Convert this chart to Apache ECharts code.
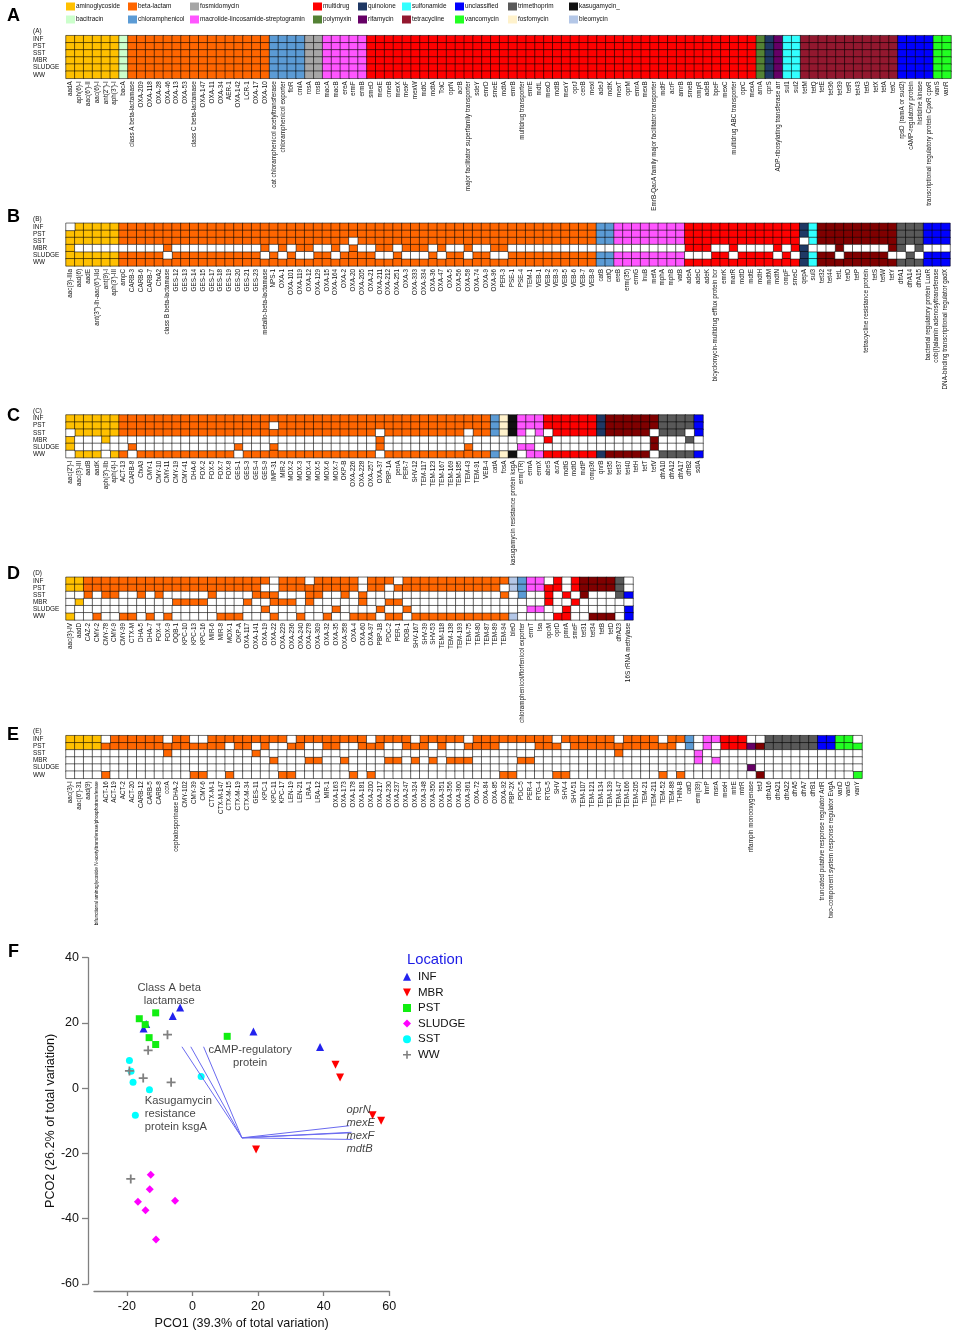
<!DOCTYPE html>
<html lang="en">

<head>
    <meta charset="utf-8">
    <title>Resistance gene heatmaps and PCoA by location</title>
    <style>
        html, body { margin: 0; padding: 0; background: #fff; }
        #chart { width: 954px; height: 1331px; }
    </style>
</head>

<body>
    <div id="chart"></div>
    <script src="https://cdn.jsdelivr.net/npm/echarts@6/dist/echarts.min.js"></script>
    <script type="text/javascript">
        var sites = ['INF', 'PST', 'SST', 'MBR', 'SLUDGE', 'WW'];

        var classNames = ['aminoglycoside', 'bacitracin', 'beta-lactam', 'chloramphenicol', 'fosmidomycin',
            'macrolide-lincosamide-streptogramin', 'multidrug', 'polymyxin', 'quinolone', 'rifamycin',
            'sulfonamide', 'tetracycline', 'unclassified', 'vancomycin', 'trimethoprim', 'fosfomycin',
            'kasugamycin_', 'bleomycin'];
        var classColors = ['#FFC000', '#CCFFCC', '#FF6600', '#5B9BD5', '#A6A6A6', '#FF55FF', '#FF0000', '#548235',
            '#1F3864', '#660066', '#33FFFF', '#800000', '#0000FF', '#22FF22', '#595959', '#FFF2CC', '#111111', '#B4C7E7'];

        // panel A
        var aGenes = ["aadA", "aph(6)-I", "aac(6')-II", "aac(6)-I", "ant(2'')-I", "aph(3')-I", "bacA",
            "class A beta-lactamase", "OXA-209", "OXA-118", "OXA-28", "OXA-46", "OXA-13", "OXA-53", "class C beta-lactamase",
            "OXA-147", "OXA-11", "OXA-34", "AER-1", "OXA-142", "LCR-1", "OXA-17", "OXA-10",
            "cat chloramphenicol acetyltransferase", "chloramphenicol exporter", "floR", "cmlA", "rosA", "rosB",
            "macA", "macB", "ereA", "ermF", "ermB",
            "smeD", "mexE", "cmeB", "mexX", "mexF", "mexW", "mdtC", "mdtA", "TolC", "oprN", "acrB",
            "major facilitator superfamily transporter", "sdeY", "emrD", "smeE", "mdtA", "emrB", "multidrug transporter",
            "emrE", "mdtL", "mexD", "mdtB", "mexY", "oprJ", "ceoB", "mexI", "adeJ", "mdtK", "mexT", "oprM", "emrA", "mexB",
            "EmrB-QacA family major facilitator transporter", "mdtF", "acrF", "amrB", "smeB", "ompR", "adeB", "bpeF", "mexC",
            "multidrug ABC transporter", "oprC", "mexA", "arnA", "cprS", "ADP-ribosylating transferase arr", "sul1", "sul2",
            "tetM", "tetQ", "tetE", "tet36", "tet39", "tetR", "tet43", "tetG", "tetX", "tetA", "tetC",
            "rpsD (ramA or sud2)", "cAMP-regulatory protein", "histidine kinase", "transcriptional regulatory protein CpxR cpxR",
            "vanS", "vanR"];
        var aRuns = [['aminoglycoside', 6], ['bacitracin', 1], ['beta-lactam', 16], ['chloramphenicol', 4], ['fosmidomycin', 2],
            ['macrolide-lincosamide-streptogramin', 5], ['multidrug', 44], ['polymyxin', 1], ['quinolone', 1], ['rifamycin', 1],
            ['sulfonamide', 2], ['tetracycline', 11], ['unclassified', 4], ['vancomycin', 2]];
        var aAll = '1111111111 1111111111 1111111111 1111111111 1111111111 1111111111 1111111111 1111111111 1111111111 1111111111';
        var aRows = [aAll, aAll, aAll, aAll, aAll, aAll];

        // panel B
        var bGenes = ["aac(3)-IIIa", "aad(6)", "aadE", "ant(3'')-Ih-aac(6')-IId", "ant(9)-I", "aph(3')-III",
            "ampC", "CARB-3", "CARB-6", "CARB-7", "CfxA2", "class B beta-lactamase",
            "GES-12", "GES-13", "GES-14", "GES-15", "GES-17", "GES-18", "GES-19", "GES-20", "GES-21", "GES-23",
            "metallo-beta-lactamase", "NPS-1", "OXA-1", "OXA-101", "OXA-119", "OXA-12", "OXA-129", "OXA-15", "OXA-164", "OXA-2",
            "OXA-20", "OXA-205", "OXA-21", "OXA-211", "OXA-212", "OXA-251", "OXA-3", "OXA-333", "OXA-334", "OXA-36", "OXA-47",
            "OXA-5", "OXA-56", "OXA-58", "OXA-74", "OXA-9", "OXA-96", "PER-3", "PSE-1", "PSE-4", "TEM-1",
            "VEB-1", "VEB-2", "VEB-3", "VEB-5", "VEB-6", "VEB-7", "VEB-8", "catB", "catQ",
            "ereB", "erm(35)", "ermG", "lnuB", "mefA", "mphA", "mphB", "vatB",
            "adeA", "adeC", "adeK", "bicyclomycin-multidrug efflux protein bcr", "emrK", "marR", "mdtD", "mdtE", "mdtH", "mdtM",
            "mdtN", "ompF", "smeC", "qepA", "sul3", "tet32", "tet44", "tetL", "tetO", "tetP", "tetracycline resistance protein",
            "tetS", "tetW", "tetY", "dfrA1", "dfrA14", "dfrA15", "bacterial regulatory protein LuxR",
            "cob(I)alamin adenosyltransferase", "DNA-binding transcriptional regulator gadX"];
        var bRuns = [['aminoglycoside', 6], ['beta-lactam', 54], ['chloramphenicol', 2], ['macrolide-lincosamide-streptogramin', 8],
            ['multidrug', 13], ['quinolone', 1], ['sulfonamide', 1], ['tetracycline', 9], ['trimethoprim', 3], ['unclassified', 3]];
        var bRows = [
            '0111111111 1111111111 1111111111 1111111111 1111111111 1111111111 1111111111 1111111111 1111111111 1111111111',
            '1111111111 1111111111 1111111111 1111111111 1111111111 1111111111 1111111111 1111111111 1111111111 1111111111',
            '1111111111 1111111111 1111111111 1101111111 1111111111 1111111111 1111111111 1111111111 1110111111 1111111111',
            '1000000000 0100000000 0010101100 1010011011 1010010011 0000000000 0000000000 1110010000 1011000100 0001101000',
            '1111111111 1011111111 1101010011 0111100100 0101101100 1111111111 1111111111 0001101111 0101111011 1110010111',
            '1111111111 1111111111 1111111111 1111111111 1111111111 1111111111 1111111111 1111111111 1111111111 1111111111'];

        // panel C
        var cGenes = ["aac(2')-I", "aac(3)-III", "aadB", "aadK", "aph(3')-IIb", "aph(4)-I",
            "ACT-13", "CARB-8", "CfxA3", "CMY-1", "CMY-10", "CMY-11", "CMY-19", "CMY-41", "DHA-6", "FOX-2", "FOX-5", "FOX-7", "FOX-8",
            "GES-1", "GES-3", "GES-4", "GES-9", "IMP-31", "MIR-2", "MOX-2", "MOX-3", "MOX-4", "MOX-5", "MOX-6", "MOX-7", "OKP-B",
            "OXA-226", "OXA-228", "OXA-257", "OXA-37", "PBP-1A", "penA", "PER-7", "SHV-12",
            "TEM-117", "TEM-123", "TEM-167", "TEM-169", "TEM-185", "TEM-43", "TEM-91", "VEB-4", "catA", "fosA",
            "kasugamycin resistance protein ksgA", "erm(TR)", "ermA", "ermX", "abeS", "acrA", "mdtG", "mdtO", "mdtP", "omp36",
            "qnrB", "tet35", "tet37", "tet40", "tetH", "tetT", "tetV", "dfrA10", "dfrA12", "dfrA17", "dfrB2", "sdiA"];
        var cRuns = [['aminoglycoside', 6], ['beta-lactam', 42], ['chloramphenicol', 1], ['fosfomycin', 1], ['kasugamycin_', 1],
            ['macrolide-lincosamide-streptogramin', 3], ['multidrug', 6], ['quinolone', 1], ['tetracycline', 6], ['trimethoprim', 4], ['unclassified', 1]];
        var cRows = [
            '1111111111 1111111111 1111111111 1111111111 1111111111 1111111111 1111111111 11',
            '1111111111 1111111111 1110111111 1111111111 1111111111 1111111111 1111111111 11',
            '0111111111 1111111111 1111111111 1111101111 1111101111 1101011111 1111110111 01',
            '1000100000 0000000000 0000000000 0000010000 0000000000 0000100000 0000001000 10',
            '1000000100 0000000001 0001000000 0000010000 0000010000 0110000000 0000001000 00',
            '0111011011 1111111110 1111111111 1111101111 1111111111 1011111111 1111110111 11'];

        // panel D
        var dGenes = ["aac(3)-IV", "aadD", "CAZ-2", "CMY-2", "CMY-78", "CMY-9", "CMY-99", "CTX-M", "DHA-5", "DHA-7", "FOX-4", "FOX-9",
            "OQB-1", "KPC-10", "KPC-13", "KPC-16", "MIR-6", "MIR-8", "MOX-1", "OKP-A", "OXA-117", "OXA-141", "OXA-19", "OXA-22",
            "OXA-229", "OXA-236", "OXA-240", "OXA-278", "OXA-309", "OXA-32", "OXA-35", "OXA-358", "OXA-4", "OXA-60", "OXA-97",
            "PBP-1B", "PDC-2", "PER-1", "ROB-1", "SHV-167", "SHV-39", "SHV-53", "TEM-118", "TEM-138", "TEM-193", "TEM-75",
            "TEM-80", "TEM-87", "TEM-89", "TEM-94", "bleO", "chloramphenicol/florfenicol exporter", "ermT", "lsa",
            "opcM", "oprD", "pmrA", "smeF", "tet31", "tet34", "tetB", "tetD", "dfrA23", "16S rRNA methylase"];
        var dRuns = [['aminoglycoside', 2], ['beta-lactam', 48], ['bleomycin', 1], ['chloramphenicol', 1],
            ['macrolide-lincosamide-streptogramin', 2], ['multidrug', 4], ['tetracycline', 4], ['trimethoprim', 1], ['unclassified', 1]];
        var dRows = [
            '1111111111 1111111111 1110111011 1110111011 1111111111 1111010111 1110',
            '1111111111 1111111111 1100111111 1110110111 1111111110 1111110111 1110',
            '0010110010 1000001000 0111000110 0101000000 0000000001 0100101010 0011',
            '0100000000 0011110000 1001110100 0001001100 0000000000 0000100100 0000',
            '0000000000 0000000000 0010000000 1000010010 0000000000 0011001000 0001',
            '1001001101 0100000111 0001001001 0011101101 1111111111 1000011001 1101'];

        // panel E
        var eGenes = ["aac(3)-I", "aac(6')-31", "aad(9)", "bifunctional aminoglycoside N-acetyltransferase/phosphotransferase",
            "ACT-16", "ACT-19", "ACT-2", "ACT-20", "CARB-12", "CARB-5", "CARB-8", "ccrA", "cephalosporinase DHA-2",
            "CMY-102", "CMY-39", "CMY-6", "CTX-M-1", "CTX-M-147", "CTX-M-15", "CTX-M-19", "CTX-M-34", "GES-11",
            "KPC-1", "KPC-11", "KPC-17", "LEN-19", "LEN-21", "LRA-1", "LRA-12", "MIR-1",
            "OXA-163", "OXA-173", "OXA-178", "OXA-181", "OXA-200", "OXA-217", "OXA-230", "OXA-237", "OXA-247", "OXA-324",
            "OXA-348", "OXA-350", "OXA-351", "OXA-356", "OXA-360", "OXA-361", "OXA-72", "OXA-84", "OXA-85", "OXA-92",
            "PBP-2X", "PDC-5", "PER-4", "RTG-4", "RTG-5", "SHV", "SHV-4", "SHV-51",
            "TEM-107", "TEM-121", "TEM-134", "TEM-139", "TEM-147", "TEM-166", "TEM-205", "TEM-21", "TEM-211", "TEM-52", "TEM-88",
            "THIN-B", "catD", "erm(39)", "lmrP", "msrA", "mexH", "mtrE", "mtrR", "rifampin monooxygenase", "tetJ",
            "dfrA16", "dfrA21", "dfrA22", "dfrA5", "dfrA7", "dfrB1", "truncated putative response regulator ArlR",
            "two-component system response regulator EvgA", "vanD", "vanG", "vanY"];
        var eRuns = [['aminoglycoside', 4], ['beta-lactam', 66], ['chloramphenicol', 1], ['macrolide-lincosamide-streptogramin', 3],
            ['multidrug', 3], ['rifamycin', 1], ['tetracycline', 1], ['trimethoprim', 6], ['unclassified', 2], ['vancomycin', 3]];
        var eRows = [
            '1111011111 1011001111 1111101111 1111011110 1111101111 1111101111 1101111011 1011111001 1111111110',
            '1111111111 1111111101 1010011001 1001110011 1010011110 0001110111 1111111110 1010111111 1111111111',
            '0000000000 0100000000 0100000000 0000000000 0000000000 0000000000 0010000000 0100000000 0000000000',
            '0000000000 0000000000 0001000110 0100001101 0101110000 0110000000 0000000000 0101000000 0000000000',
            '0000000000 0000000000 0000000000 0000000000 0000000000 0000000000 0000000000 0000000100 0000000000',
            '0000100000 0000110010 0000110000 0010100000 0000000001 1000011000 0000000101 0000000010 0000000001'];

        // panel F
        var infX = [-14.9, -14.1, -6, -3.75, 18.6, 38.9];
        var infY = [18.3, 19.7, 22.1, 24.7, 17.4, 12.6];
        var mbrX = [43.6, 45, 54.9, 57.5, 19.4];
        var mbrY = [7.2, 3.3, -8.3, -10, -18.8];
        var pstX = [-16.2, -11.2, -14.4, -13.2, -11.2, 10.6];
        var pstY = [21.3, 23.1, 19.5, 15.5, 13.4, 15.9];
        var sludgeX = [-12.7, -13, -16.6, -5.3, -14.3, -11.1];
        var sludgeY = [-26.5, -31, -34.8, -34.5, -37.4, -46.4];
        var sstX = [-19.2, -18.7, -18.1, -13.1, -17.4, 2.65];
        var sstY = [8.5, 5.2, 1.8, -0.5, -8.3, 3.6];
        var wwX = [-7.6, -13.5, -19.2, -15, -6.5, -18.8];
        var wwY = [16.4, 11.6, 5.3, 3.1, 1.8, -27.8];
        var vectorOrigin = [15.1, -15.2];
        var vectorEndX = [3.4, -0.5, -3.2, 47.8, 48.5, 47.5, 48.8];
        var vectorEndY = [12.7, 12.7, 12.7, -11.5, -13.5, -13.7, -15.7];
        var xTicks = [-20, 0, 20, 40, 60];
        var geneTerms = ['oprN', 'mexE', 'mexF', 'mdtB'];
        var geneTermX = [46.8, 46.8, 46.8, 46.8];
        var geneTermY = [-6.6, -10.5, -14.5, -18.5];
        var proteinTerms = ['Class A beta\nlactamase', 'cAMP-regulatory\nprotein'];
        var proteinTermX = [-7.1, 17.6];
        var proteinTermY = [28.6, 9.7];
        var kasugamycinTerm = 'Kasugamycin\nresistance\nprotein ksgA';
        var kasugamycinPos = [-14.7, -7.8];

        var FONT = 'Liberation Sans, Arial, sans-serif';
        var chart = echarts.init(document.getElementById('chart'));
        var grids = [], xAxes = [], yAxes = [], series = [], titles = [];

        function colorOf(name) {
            return classColors[classNames.indexOf(name)];
        }

        function addPanel(tag, letterY, top, width, genes, runs, rows) {
            var idx = grids.length;
            var clean = rows.map(function (r) { return r.replace(/ /g, ''); });
            grids.push({ left: 66, top: top, width: width, height: 42.6 });
            xAxes.push({
                type: 'category', gridIndex: idx, data: genes.map(function (g) {
                    return g.length > 60 ? { value: g, textStyle: { fontSize: 4.75 } } : g;
                }),
                axisLine: { show: false }, axisTick: { show: false }, splitLine: { show: false },
                axisLabel: { interval: 0, rotate: 90, fontSize: 6.35, margin: 3, color: '#111', fontFamily: FONT, hideOverlap: false }
            });
            yAxes.push({
                type: 'category', gridIndex: idx, inverse: true, data: sites,
                axisLine: { show: false }, axisTick: { show: false }, splitLine: { show: false },
                axisLabel: { interval: 0, fontSize: 6.4, align: 'left', margin: 33, color: '#111', fontFamily: FONT }
            });
            var absent = [], col = 0;
            runs.forEach(function (run) {
                var cells = [];
                for (var i = 0; i < run[1]; i++, col++) {
                    for (var r = 0; r < sites.length; r++) {
                        if (clean[r][col] === '1') cells.push([col, r, 1]); else absent.push([col, r, 0]);
                    }
                }
                var color = colorOf(run[0]);
                if (tag === 'A' && run[0] === 'tetracycline') color = '#93182F';
                series.push(heat(run[0], idx, cells, color));
            });
            series.push(heat('absent', idx, absent, '#fff'));
            titles.push({ text: tag, left: 7, top: letterY - 9, padding: 0, textStyle: { fontSize: 18, fontWeight: 'bold', color: '#000', fontFamily: FONT } });
            titles.push({ text: '(' + tag + ')', left: 33, top: top - 7, padding: 0, textStyle: { fontSize: 6.4, fontWeight: 'normal', color: '#111', fontFamily: FONT } });
        }

        function heat(name, idx, cells, color) {
            return {
                name: name, type: 'heatmap', xAxisIndex: idx, yAxisIndex: idx, data: cells, silent: true,
                itemStyle: { color: color, borderColor: 'rgba(0,0,0,0.55)', borderWidth: 1 }
            };
        }

        addPanel('A', 16, 35.7, 885, aGenes, aRuns, aRows);
        addPanel('B', 216.7, 223.3, 884, bGenes, bRuns, bRows);
        addPanel('C', 415.7, 415, 637, cGenes, cRuns, cRows);
        addPanel('D', 574, 577.3, 567, dGenes, dRuns, dRows);
        addPanel('E', 735, 735.7, 796, eGenes, eRuns, eRows);

        // PCoA panel
        var f = grids.length;
        grids.push({ left: 94, top: 957.7, width: 295.3, height: 328.3 });
        xAxes.push({
            type: 'value', gridIndex: f, min: -30, max: 60, offset: 7, position: 'bottom',
            name: 'PCO1 (39.3% of total variation)', nameLocation: 'middle', nameGap: 26,
            nameTextStyle: { fontSize: 12.6, color: '#111', fontFamily: FONT },
            axisLine: { show: true, onZero: false, lineStyle: { color: '#808080', width: 1.3 } },
            axisTick: { show: true, length: 5, customValues: xTicks, lineStyle: { color: '#808080', width: 1.3 } },
            axisLabel: { customValues: xTicks, fontSize: 12.5, margin: 9, color: '#111', fontFamily: FONT },
            splitLine: { show: false }
        });
        yAxes.push({
            type: 'value', gridIndex: f, min: -60, max: 40, interval: 20, offset: 6, position: 'left',
            name: 'PCO2 (26.2% of total variation)', nameLocation: 'middle', nameGap: 30,
            nameTextStyle: { fontSize: 12.6, color: '#111', fontFamily: FONT },
            axisLine: { show: true, onZero: false, lineStyle: { color: '#808080', width: 1.3 } },
            axisTick: { show: true, length: 6, lineStyle: { color: '#808080', width: 1.3 } },
            axisLabel: { fontSize: 12.5, margin: 9, color: '#111', fontFamily: FONT },
            splitLine: { show: false }
        });

        vectorEndX.forEach(function (x, i) {
            series.push({
                name: 'vector', type: 'line', xAxisIndex: f, yAxisIndex: f, silent: true, showSymbol: false, symbol: 'none',
                data: [vectorOrigin, [x, vectorEndY[i]]], lineStyle: { color: '#6A6AF0', width: 1 }
            });
        });

        function zipPoints(xs, ys) {
            return xs.map(function (x, i) { return [x, ys[i]]; });
        }

        function points(name, xs, ys, color, symbol, size, rotate) {
            series.push({
                name: name, type: 'scatter', xAxisIndex: f, yAxisIndex: f, silent: true, data: zipPoints(xs, ys),
                symbol: symbol, symbolSize: size, symbolRotate: rotate || 0, itemStyle: { color: color, opacity: 1 }
            });
        }

        var PLUS = 'path://M4,0H6V4H10V6H6V10H4V6H0V4H4Z';
        var DOWN = 'path://M0,0H10L5,10Z';
        points('INF', infX, infY, '#2222EE', 'triangle', 8);
        points('MBR', mbrX, mbrY, '#FF0000', 'triangle', 8, 180);
        points('PST', pstX, pstY, '#11EE11', 'rect', 7);
        points('SLUDGE', sludgeX, sludgeY, '#FF00FF', 'diamond', 8);
        points('SST', sstX, sstY, '#00FFFF', 'circle', 7);
        points('WW', wwX, wwY, '#808080', PLUS, 9);

        function terms(names, xs, ys, position, fontStyle) {
            series.push({
                name: 'term', type: 'scatter', xAxisIndex: f, yAxisIndex: f, silent: true, symbolSize: 1, z: 5,
                itemStyle: { color: 'transparent' },
                data: names.map(function (n, i) { return { name: n, value: [xs[i], ys[i]] }; }),
                label: {
                    show: true, position: position, distance: 0, formatter: '{b}', fontSize: 11.2, lineHeight: 13,
                    fontStyle: fontStyle, color: '#111', fontFamily: FONT
                }
            });
        }
        terms(proteinTerms, proteinTermX, proteinTermY, 'inside', 'normal');
        terms([kasugamycinTerm], [kasugamycinPos[0]], [kasugamycinPos[1]], 'right', 'normal');
        terms(geneTerms, geneTermX, geneTermY, 'right', 'italic');

        titles.push({ text: 'F', left: 8, top: 943, padding: 0, textStyle: { fontSize: 18, fontWeight: 'bold', color: '#000', fontFamily: FONT } });
        titles.push({ text: 'Location', left: 407, top: 952.5, padding: 0, textStyle: { fontSize: 14.8, fontWeight: 'normal', color: '#1A1AE6', fontFamily: FONT } });

        // legend columns along the top, two entries in each
        var legendColumns = [
            ['aminoglycoside', 'bacitracin', 66], ['beta-lactam', 'chloramphenicol', 128],
            ['fosmidomycin', 'macrolide-lincosamide-streptogramin', 190], ['multidrug', 'polymyxin', 313],
            ['quinolone', 'rifamycin', 358], ['sulfonamide', 'tetracycline', 402], ['unclassified', 'vancomycin', 455],
            ['trimethoprim', 'fosfomycin', 508], ['kasugamycin_', 'bleomycin', 569]
        ];
        var legends = legendColumns.map(function (c) {
            return {
                left: c[2], top: 2.5, orient: 'vertical', data: [c[0], c[1]], selectedMode: false,
                icon: 'rect', itemWidth: 9, itemHeight: 8, itemGap: 5, padding: 0,
                itemStyle: { borderWidth: 0 },
                textStyle: { fontSize: 6.4, color: '#111', fontFamily: FONT, padding: [0, 0, 0, -4] }
            };
        });
        legends.push({
            left: 403, top: 970, orient: 'vertical',
            data: ['INF', { name: 'MBR', icon: DOWN }, 'PST', 'SLUDGE', 'SST', 'WW'], selectedMode: false,
            itemWidth: 8, itemHeight: 8, itemGap: 2, padding: 0,
            textStyle: { fontSize: 11.5, color: '#111', fontFamily: FONT, lineHeight: 13.6, padding: [0, 0, 0, 2] }
        });

        var option = {
            backgroundColor: '#fff',
            animation: false,
            title: titles,
            legend: legends,
            grid: grids,
            xAxis: xAxes,
            yAxis: yAxes,
            series: series
        };
        chart.setOption(option);
    </script>
</body>

</html>
